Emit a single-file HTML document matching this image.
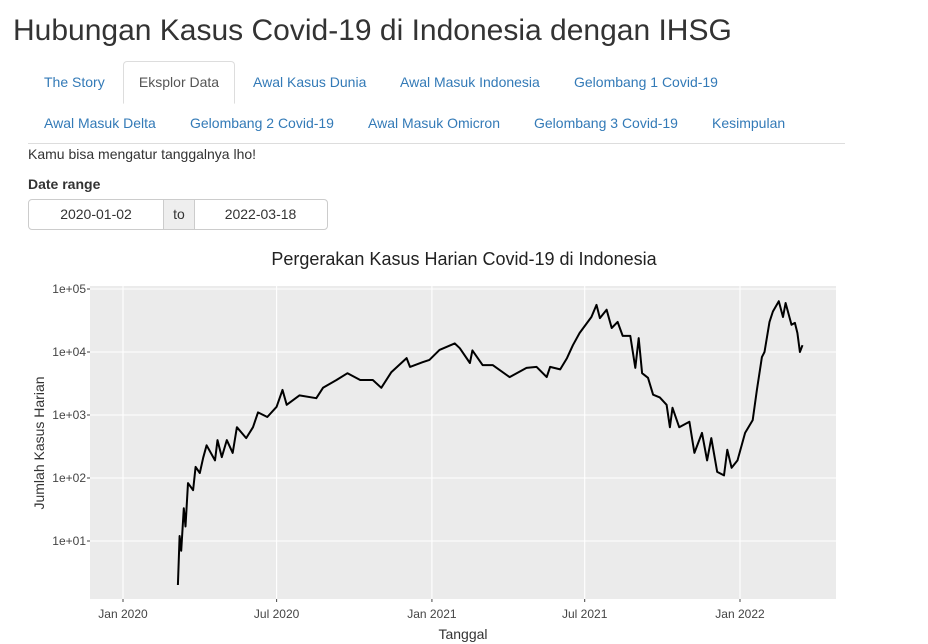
<!DOCTYPE html>
<html><head><meta charset="utf-8">
<style>
body{margin:0;width:928px;height:644px;background:#fff;font-family:"Liberation Sans",sans-serif;color:#333;position:relative;overflow:hidden}
.abs{position:absolute}
h1{position:absolute;left:13px;top:14px;margin:0;font-size:30px;font-weight:400;color:#333}
.tab{position:absolute;font-size:14px;color:#337ab7;line-height:20px}
.active{border:1px solid #ddd;border-bottom:1px solid #fff;border-radius:4px 4px 0 0;color:#555;background:#fff}
</style></head><body>
<h1>Hubungan Kasus Covid-19 di Indonesia dengan IHSG</h1>
<div class="abs" style="left:28px;top:143px;width:817px;height:1px;background:#ddd"></div>
<div class="tab" style="left:44px;top:72px">The Story</div>
<div class="tab active" style="left:123px;top:61px;width:110px;height:41px;line-height:41px;text-align:center">Eksplor Data</div>
<div class="tab" style="left:253px;top:72px">Awal Kasus Dunia</div>
<div class="tab" style="left:400px;top:72px">Awal Masuk Indonesia</div>
<div class="tab" style="left:574px;top:72px">Gelombang 1 Covid-19</div>
<div class="tab" style="left:44px;top:113px">Awal Masuk Delta</div>
<div class="tab" style="left:190px;top:113px">Gelombang 2 Covid-19</div>
<div class="tab" style="left:368px;top:113px">Awal Masuk Omicron</div>
<div class="tab" style="left:534px;top:113px">Gelombang 3 Covid-19</div>
<div class="tab" style="left:712px;top:113px">Kesimpulan</div>
<div class="abs" style="left:28px;top:146px;font-size:14px">Kamu bisa mengatur tanggalnya lho!</div>
<div class="abs" style="left:28px;top:176px;font-size:14px;font-weight:bold">Date range</div>
<div class="abs" style="left:28px;top:199px;width:298px;height:29px;border:1px solid #ccc;border-radius:4px;font-size:14px">
<div class="abs" style="left:0;top:0;width:134px;height:29px;line-height:29px;text-align:center">2020-01-02</div>
<div class="abs" style="left:134px;top:0;width:30px;height:29px;line-height:29px;text-align:center;background:#eee;border-left:1px solid #ccc;border-right:1px solid #ccc">to</div>
<div class="abs" style="left:165px;top:0;width:133px;height:29px;line-height:29px;text-align:center">2022-03-18</div>
</div>
<svg class="abs" style="left:0;top:240px" width="928" height="404">
<g id="g" transform="translate(0,-240)"></g>
</svg>
<script>
const dates=["2020-03-06","2020-03-08","2020-03-10","2020-03-13","2020-03-15","2020-03-18","2020-03-24","2020-03-27","2020-04-01","2020-04-05","2020-04-09","2020-04-19","2020-04-22","2020-04-27","2020-05-03","2020-05-10","2020-05-15","2020-05-26","2020-06-03","2020-06-09","2020-06-20","2020-07-01","2020-07-08","2020-07-13","2020-07-28","2020-08-17","2020-08-25","2020-09-10","2020-09-23","2020-10-08","2020-10-23","2020-11-02","2020-11-14","2020-12-02","2020-12-06","2020-12-21","2020-12-29","2021-01-10","2021-01-28","2021-02-03","2021-02-15","2021-02-18","2021-03-02","2021-03-14","2021-04-03","2021-04-23","2021-05-05","2021-05-17","2021-05-21","2021-06-02","2021-06-10","2021-06-17","2021-06-25","2021-07-09","2021-07-15","2021-07-19","2021-07-27","2021-08-02","2021-08-09","2021-08-15","2021-08-24","2021-08-30","2021-09-03","2021-09-07","2021-09-14","2021-09-20","2021-09-28","2021-10-06","2021-10-10","2021-10-13","2021-10-21","2021-11-02","2021-11-08","2021-11-17","2021-11-23","2021-11-28","2021-12-05","2021-12-13","2021-12-17","2021-12-22","2021-12-29","2022-01-07","2022-01-16","2022-01-21","2022-01-27","2022-01-30","2022-02-05","2022-02-09","2022-02-16","2022-02-21","2022-02-24","2022-03-03","2022-03-07","2022-03-10","2022-03-13","2022-03-16"];
const cases=[2,12,7,33,17,83,64,150,120,210,330,190,400,215,400,250,640,430,640,1100,930,1350,2500,1450,2050,1850,2700,3600,4600,3600,3600,2700,4800,8000,5800,6900,7500,10800,13700,11500,6700,10600,6200,6200,4000,5600,5800,4000,5800,5300,8000,12800,20000,36000,56000,34500,47000,24000,30000,18000,18000,5600,16600,4600,3900,2100,1900,1450,640,1300,640,780,250,520,190,430,125,110,280,145,190,520,830,2500,8300,10000,30000,44000,64000,36000,60000,27000,29000,20000,10000,12800];
const yTicks=[10,100,1000,10000,100000];
const yTickLabels=["1e+01","1e+02","1e+03","1e+04","1e+05"];
const xTicks=["2020-01-01","2020-07-01","2021-01-01","2021-07-01","2022-01-01"];
const xTickLabels=["Jan 2020","Jul 2020","Jan 2021","Jul 2021","Jan 2022"];
const NS="http://www.w3.org/2000/svg",g=document.getElementById('g');
const t0=Date.UTC(2020,0,1),t1=Date.UTC(2022,0,1);
function xs(d){const t=Date.parse(d+"T00:00:00Z");return 123+(t-t0)/(t1-t0)*(740-123);}
function ys(v){return 604-63*Math.log10(v);}
function el(tag,a,txt){const e=document.createElementNS(NS,tag);for(const k in a)e.setAttribute(k,a[k]);if(txt!=null)e.textContent=txt;g.appendChild(e);return e;}
let e=el('rect',{x:90,y:286,width:746,height:313,fill:'#ebebeb'});


yTicks.forEach((v,i)=>{
 const y=ys(v);
 let l=el('line',{x1:90,x2:836,y1:y,y2:y,stroke:'#fff','stroke-width':1.1});
 
 
 let tk=el('line',{x1:87,x2:90,y1:y,y2:y,stroke:'#444'});
 
 
 let t=el('text',{x:86,y:y+4,'text-anchor':'end','font-size':12,fill:'#444','font-family':'Liberation Sans, sans-serif'},yTickLabels[i]);
 
 
});
xTicks.forEach((d,i)=>{
 const x=xs(d);
 let l=el('line',{x1:x,x2:x,y1:286,y2:599,stroke:'#fff','stroke-width':1.1});
 
 
 let tk=el('line',{x1:x,x2:x,y1:599,y2:602,stroke:'#444'});
 
 
 let t=el('text',{x:x,y:618,'text-anchor':'middle','font-size':12,fill:'#444','font-family':'Liberation Sans, sans-serif'},xTickLabels[i]);
 
 
});
const pts=dates.map((d,i)=>xs(d).toFixed(1)+","+ys(cases[i]).toFixed(1)).join(" ");
let p=el('polyline',{points:pts,fill:'none',stroke:'#000','stroke-width':2,'stroke-linejoin':'round'});


let tt=el('text',{x:464,y:265,'text-anchor':'middle','font-size':18,fill:'#222','font-family':'Liberation Sans, sans-serif'},"Pergerakan Kasus Harian Covid-19 di Indonesia");


let xt=el('text',{x:463,y:639,'text-anchor':'middle','font-size':14,fill:'#333','font-family':'Liberation Sans, sans-serif'},"Tanggal");


let yt=el('text',{x:0,y:0,transform:'translate(44,443) rotate(-90)','text-anchor':'middle','font-size':14,fill:'#333','font-family':'Liberation Sans, sans-serif'},"Jumlah Kasus Harian");


</script>
</body></html>
